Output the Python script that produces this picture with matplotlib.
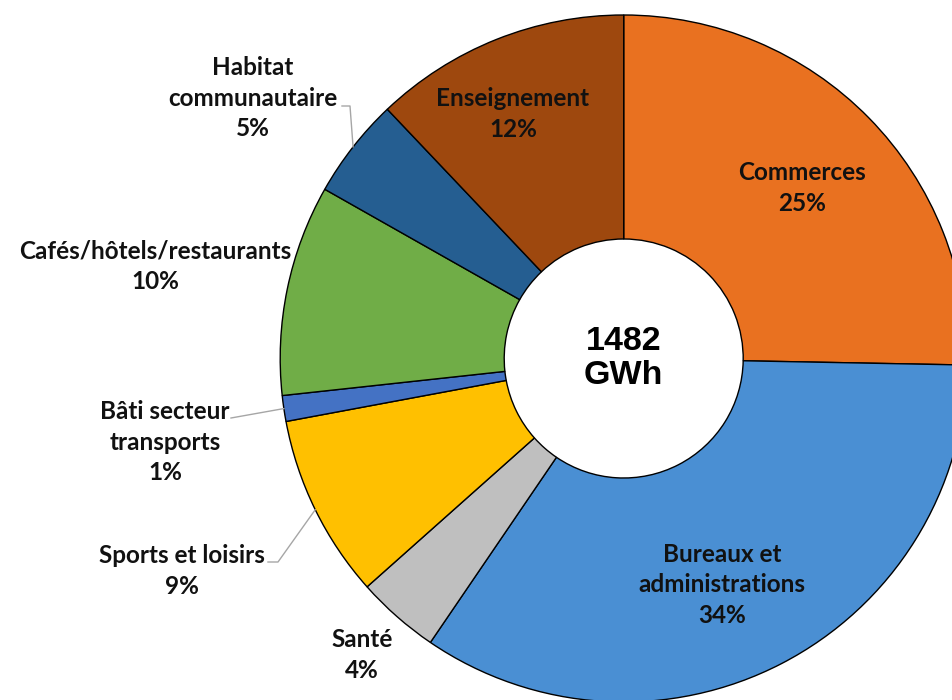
import matplotlib.pyplot as plt
import numpy as np

# Consommation du tertiaire par branche (GWh)
categories = ["Commerces", "Bureaux et\nadministrations", "Santé", "Sports et loisirs",
              "Bâti secteur\ntransports", "Cafés/hôtels/restaurants",
              "Habitat\ncommunautaire", "Enseignement"]
gwh = [375, 507, 58, 128, 18, 147, 70, 179]
colors = ["#E97120", "#4A8FD3", "#BFBFBF", "#FFC000", "#4472C4", "#70AD47", "#255E91", "#9E480E"]
total = sum(gwh)
center_label = f"{total}\nGWh"

W, H = 952, 700
cx, cy = 623.7, H - 358.5   # centre du donut (pixels)
R, r_in = 343.5, 119.5

fig = plt.figure(figsize=(9.52, 7.0), dpi=100)
ax = fig.add_axes([0, 0, 1, 1])
wedges, _ = ax.pie(gwh, colors=colors, startangle=90, counterclock=False,
                   center=(cx, cy), radius=R,
                   wedgeprops=dict(width=R - r_in, edgecolor='black', linewidth=1.0))
ax.set_xlim(0, W)
ax.set_ylim(0, H)
ax.set_aspect('equal')
ax.axis('off')

# position des etiquettes (centre du bloc, coord. image)
label_pos = [(802, 188), (722, 585), (362, 655), (182, 571),
             (165, 442), (155, 266), (253, 98), (513, 114)]
font = dict(family='Lato', fontweight='bold', fontsize=17.5, color='#111111')
for name, v, (x, y) in zip(categories, gwh, label_pos):
    ax.text(x, H - y, f"{name}\n{round(100 * v / total)}%", ha='center', va='center',
            multialignment='center', linespacing=1.4, **font)

# traits de rappel
def edge_point(i):
    mid = (wedges[i].theta1 + wedges[i].theta2) / 2
    return cx + R * np.cos(np.radians(mid)), cy + R * np.sin(np.radians(mid))

leaders = {6: [(342, 106), (350, 106)], 4: [(231, 418)], 3: [(268, 562), (278, 562)]}
for i, pts in leaders.items():
    ex, ey = edge_point(i)
    xs = [p[0] for p in pts] + [ex]
    ys = [H - p[1] for p in pts] + [ey]
    ax.plot(xs, ys, color='#A6A6A6', linewidth=1.0)

ax.text(cx, cy, center_label, ha='center', va='center', family='Liberation Sans',
        fontweight='bold', fontsize=24.5, linespacing=1.15)

fig.savefig('out.png', dpi=100)
